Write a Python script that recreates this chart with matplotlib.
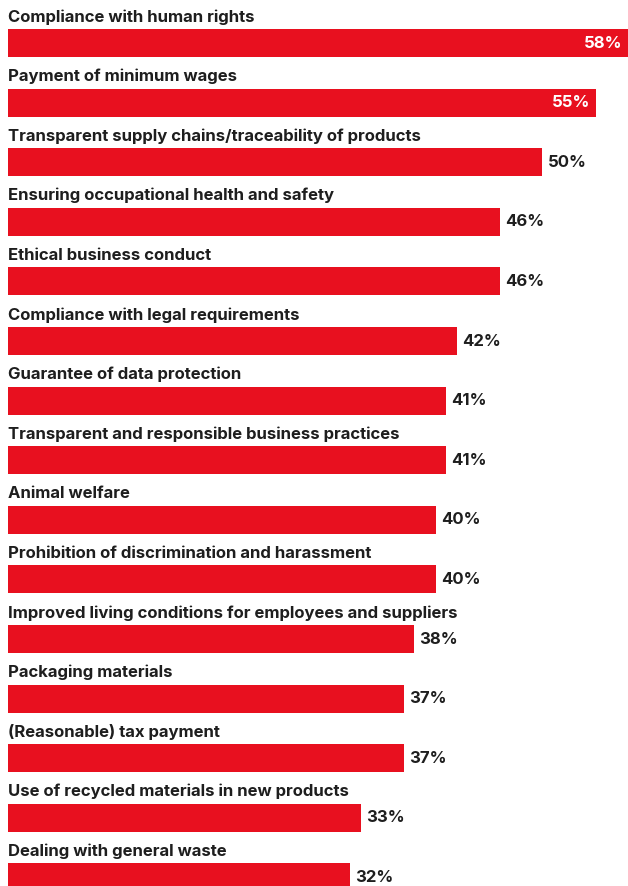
import matplotlib.pyplot as plt

categories = [
    "Compliance with human rights",
    "Payment of minimum wages",
    "Transparent supply chains/traceability of products",
    "Ensuring occupational health and safety",
    "Ethical business conduct",
    "Compliance with legal requirements",
    "Guarantee of data protection",
    "Transparent and responsible business practices",
    "Animal welfare",
    "Prohibition of discrimination and harassment",
    "Improved living conditions for employees and suppliers",
    "Packaging materials",
    "(Reasonable) tax payment",
    "Use of recycled materials in new products",
    "Dealing with general waste",
]
values = [58, 55, 50, 46, 46, 42, 41, 41, 40, 40, 38, 37, 37, 33, 32]
inside = [True, True] + [False] * 13

RED = "#E8101F"
DARK = "#1E1E1E"
FONT = ["Inter", "DejaVu Sans"]

fig = plt.figure(figsize=(6.28, 8.86), dpi=100)
ax = fig.add_axes([8 / 628, 0, 620 / 628, 1])

pos = list(range(len(values)))
ax.barh(pos, values, height=0.47, color=RED)

for i, (cat, v, inn) in enumerate(zip(categories, values, inside)):
    ax.text(0, i - 0.36, cat, ha="left", va="baseline", fontsize=12,
            fontweight="bold", color=DARK, family=FONT)
    if inn:
        ax.text(v - 0.5, i, f"{v}%", ha="right", va="center", fontsize=12,
                fontweight="bold", color="white", family=FONT)
    else:
        ax.text(v + 0.5, i, f"{v}%", ha="left", va="center", fontsize=12,
                fontweight="bold", color=DARK, family=FONT)

ax.set_xlim(0, 58)
ax.set_ylim(14.144, -0.7215)
ax.axis("off")

fig.savefig("out.png", dpi=100, facecolor="white")
